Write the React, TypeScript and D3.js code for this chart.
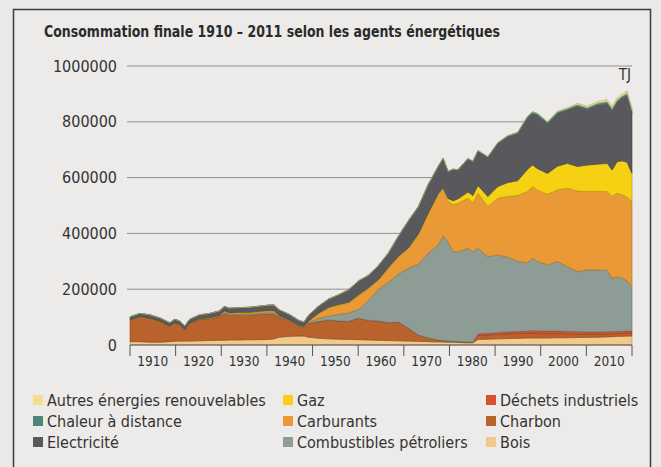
import * as d3 from 'd3'
import { useEffect, useRef } from 'react'

// values in thousand TJ
const years = [1910, 1912, 1914, 1916, 1918, 1919, 1920, 1921, 1922, 1924, 1926, 1928, 1929, 1930, 1932, 1934, 1936, 1938, 1939, 1940, 1942, 1944, 1945, 1946, 1948, 1950, 1952, 1954, 1956, 1958, 1960, 1962, 1964, 1966, 1968, 1970, 1972, 1973, 1974, 1975, 1976, 1978, 1979, 1980, 1982, 1984, 1986, 1988, 1990, 1991, 1992, 1994, 1996, 1998, 2000, 2002, 2004, 2006, 2007, 2008, 2009, 2010, 2011]

const bois = [12, 12, 10, 10, 12, 13, 14, 14, 14, 15, 16, 17, 17, 18, 18, 19, 19, 20, 22, 28, 31, 32, 32, 28, 24, 22, 21, 20, 19, 18, 17, 16, 15, 14, 13, 12, 11, 11, 10, 10, 9, 8, 8, 20, 21, 22, 23, 24, 25, 25, 25, 25, 26, 26, 27, 27, 28, 29, 30, 31, 31, 32, 32]
const charbon = [78, 90, 86, 75, 55, 66, 59, 41, 64, 77, 78, 84, 96, 88, 88, 87, 90, 91, 88, 71, 56, 36, 31, 50, 60, 68, 65, 65, 77, 70, 69, 64, 67, 46, 23, 13, 7, 5, 4, 3, 3, 3, 3, 14, 15, 16, 17, 17, 17, 18, 17, 16, 15, 14, 13, 12, 11, 11, 10, 10, 10, 10, 10]
const dechets = [0, 0, 0, 0, 0, 0, 0, 0, 0, 0, 0, 0, 0, 0, 0, 0, 0, 0, 0, 0, 0, 0, 0, 0, 0, 0, 0, 0, 0, 0, 0, 0, 0, 0, 0, 0, 0, 0, 0, 0, 0, 0, 0, 6, 6, 7, 7, 8, 8, 9, 9, 9, 9, 9, 8, 8, 8, 8, 8, 8, 8, 8, 8]
const combustibles = [0, 0, 0, 0, 0, 0, 0, 0, 0, 1, 2, 2, 3, 3, 4, 4, 5, 5, 5, 3, 1, 1, 1, 3, 12, 14, 24, 30, 32, 72, 114, 145, 173, 215, 254, 305, 340, 376, 354, 322, 322, 336, 323, 307, 274, 278, 268, 251, 245, 259, 249, 237, 249, 232, 215, 222, 222, 220, 191, 196, 191, 180, 159]
const carburants = [0, 0, 0, 0, 0, 0, 0, 0, 0, 1, 2, 3, 4, 4, 5, 5, 5, 6, 6, 3, 1, 1, 1, 5, 18, 28, 32, 35, 49, 42, 32, 50, 60, 70, 105, 140, 180, 166, 147, 167, 174, 179, 174, 197, 180, 203, 217, 236, 255, 257, 255, 253, 257, 281, 289, 281, 281, 282, 293, 299, 298, 300, 305]
const gaz = [0, 0, 0, 0, 0, 0, 0, 0, 0, 0, 0, 0, 2, 2, 2, 2, 2, 2, 2, 1, 1, 1, 1, 1, 1, 3, 3, 3, 3, 3, 3, 3, 3, 3, 3, 3, 4, 5, 10, 15, 16, 22, 28, 28, 36, 42, 50, 53, 80, 77, 77, 75, 85, 89, 88, 95, 98, 101, 95, 113, 122, 125, 101]
const electricite = [11, 11, 12, 12, 13, 13, 13, 13, 14, 14, 15, 16, 16, 17, 17, 18, 18, 19, 20, 20, 20, 17, 16, 21, 25, 30, 35, 45, 50, 45, 50, 52, 72, 97, 97, 102, 98, 106, 97, 113, 104, 120, 122, 122, 139, 153, 163, 168, 183, 184, 191, 177, 188, 190, 214, 198, 210, 213, 212, 212, 224, 237, 217]
const chaleur = [0, 0, 0, 0, 0, 0, 0, 0, 0, 0, 0, 0, 0, 0, 0, 0, 0, 0, 0, 0, 0, 0, 0, 0, 0, 0, 0, 0, 0, 0, 0, 0, 0, 0, 0, 0, 0, 0, 0, 0, 0, 0, 0, 3, 4, 4, 5, 5, 6, 6, 6, 6, 6, 6, 7, 7, 8, 8, 8, 8, 8, 9, 9]
const autres = [0, 0, 0, 0, 0, 0, 0, 0, 0, 0, 0, 0, 0, 0, 0, 0, 0, 0, 0, 0, 0, 0, 0, 0, 0, 0, 0, 0, 0, 0, 0, 0, 0, 0, 0, 0, 0, 0, 0, 0, 0, 0, 0, 0, 0, 0, 0, 0, 1, 1, 1, 2, 3, 3, 5, 6, 6, 8, 8, 8, 8, 9, 9]

const decadeLabels = ['1910', '1920', '1930', '1940', '1950', '1960', '1970', '1980', '1990', '2000', '2010']
const yTicks = [0, 200000, 400000, 600000, 800000, 1000000]

const series = [
  { key: 'bois', label: 'Bois', color: '#f1c98b', values: bois },
  { key: 'charbon', label: 'Charbon', color: '#b9622c', values: charbon },
  { key: 'dechets', label: 'Déchets industriels', color: '#d4532c', values: dechets },
  { key: 'combustibles', label: 'Combustibles pétroliers', color: '#8d9d96', values: combustibles },
  { key: 'carburants', label: 'Carburants', color: '#e99a36', values: carburants },
  { key: 'gaz', label: 'Gaz', color: '#f6d012', values: gaz },
  { key: 'electricite', label: 'Electricité', color: '#59595d', values: electricite },
  { key: 'chaleur', label: 'Chaleur à distance', color: '#4e857c', values: chaleur },
  { key: 'autres', label: 'Autres énergies renouvelables', color: '#f2df8e', values: autres },
]

// legend columns, as in the picture
const legendCols = [
  ['autres', 'chaleur', 'electricite'],
  ['gaz', 'carburants', 'combustibles'],
  ['dechets', 'charbon', 'bois'],
]

const FONT = "'DejaVu Sans Condensed', 'Liberation Sans Narrow', 'DejaVu Sans', sans-serif"

export default function App() {
  const svgRef = useRef<SVGSVGElement>(null)

  useEffect(() => {
    const width = 661
    const height = 467
    const left = 130, right = 632, bottom = 345, top = 66

    const svg = d3.select(svgRef.current)
    svg.selectAll('*').remove()

    svg.append('rect').attr('width', width).attr('height', height).attr('fill', '#e9e9e7')
    svg.append('rect')
      .attr('x', 13.5).attr('y', 9.5).attr('width', 637).attr('height', 480)
      .attr('fill', '#ecebe9').attr('stroke', '#3c3c3c').attr('stroke-width', 1.5)

    const rows = years.map((year, i) => {
      const r: any = { year }
      series.forEach(s => { r[s.key] = s.values[i] * 1000 })
      return r
    })

    const x = d3.scaleLinear().domain([1910, 2011]).range([left, right])
    const y = d3.scaleLinear().domain([0, 1000000]).range([bottom, top])
    const band = d3.scaleBand().domain(decadeLabels).range([left, right]).paddingInner(0).paddingOuter(0)

    // title
    svg.append('text')
      .attr('x', 44).attr('y', 37)
      .attr('font-family', FONT).attr('font-size', 15.5).attr('font-weight', 'bold')
      .attr('fill', '#2a2a2a')
      .attr('textLength', 456).attr('lengthAdjust', 'spacingAndGlyphs')
      .text('Consommation finale 1910 – 2011 selon les agents énergétiques')

    // grid + y labels
    const g = svg.append('g')
    g.selectAll('line.grid')
      .data(yTicks.filter(d => d > 0))
      .join('line')
      .attr('x1', left - 3).attr('x2', right)
      .attr('y1', d => y(d)).attr('y2', d => y(d))
      .attr('stroke', '#8f8f8f').attr('stroke-width', 1)

    g.selectAll('text.ylab')
      .data(yTicks)
      .join('text')
      .attr('x', 117).attr('y', d => y(d) + 5.5)
      .attr('text-anchor', 'end')
      .attr('font-family', FONT).attr('font-size', 16)
      .attr('fill', '#333')
      .text(d => d3.format('d')(d))

    svg.append('text')
      .attr('x', 631).attr('y', 80)
      .attr('text-anchor', 'end')
      .attr('font-family', FONT).attr('font-size', 15)
      .attr('fill', '#333')
      .text('TJ')

    // stacked areas
    const stacked = d3.stack().keys(series.map(s => s.key))(rows)
    const area = d3.area<any>()
      .x(d => x(d.data.year))
      .y0(d => y(d[0]))
      .y1(d => y(d[1]))

    svg.append('g')
      .selectAll('path')
      .data(stacked)
      .join('path')
      .attr('d', area)
      .attr('fill', (d, i) => series[i].color)
      .attr('stroke', (d, i) => d3.color(series[i].color)!.darker(0.9).formatHex())
      .attr('stroke-width', 0.6)
      .attr('stroke-linejoin', 'round')

    // x axis
    const xa = svg.append('g')
    xa.append('line')
      .attr('x1', left).attr('x2', right)
      .attr('y1', bottom).attr('y2', bottom)
      .attr('stroke', '#555').attr('stroke-width', 1)
    const tickPos = decadeLabels.map(d => band(d)!).concat([right])
    xa.selectAll('line.tick')
      .data(tickPos)
      .join('line')
      .attr('x1', d => d).attr('x2', d => d)
      .attr('y1', bottom).attr('y2', bottom + 11)
      .attr('stroke', '#555').attr('stroke-width', 1)
    xa.selectAll('text')
      .data(decadeLabels)
      .join('text')
      .attr('x', d => band(d)! + band.bandwidth() / 2)
      .attr('y', 366)
      .attr('text-anchor', 'middle')
      .attr('font-family', FONT).attr('font-size', 13.5)
      .attr('fill', '#333')
      .text(d => d)

    // legend
    const colX = [33, 283, 486]
    const rowY = [400, 421, 442]
    legendCols.forEach((col, ci) => {
      col.forEach((key, ri) => {
        const s = series.find(s => s.key === key)!
        svg.append('rect')
          .attr('x', colX[ci]).attr('y', rowY[ri] - 5)
          .attr('width', 10).attr('height', 10)
          .attr('fill', s.color)
        svg.append('text')
          .attr('x', colX[ci] + 14).attr('y', rowY[ri] + 5.5)
          .attr('font-family', FONT).attr('font-size', 16)
          .attr('fill', '#333')
          .text(s.label)
      })
    })
  }, [])

  return <svg ref={svgRef} width={661} height={467} style={{ position: 'absolute', left: 0, top: 0 }} />
}
